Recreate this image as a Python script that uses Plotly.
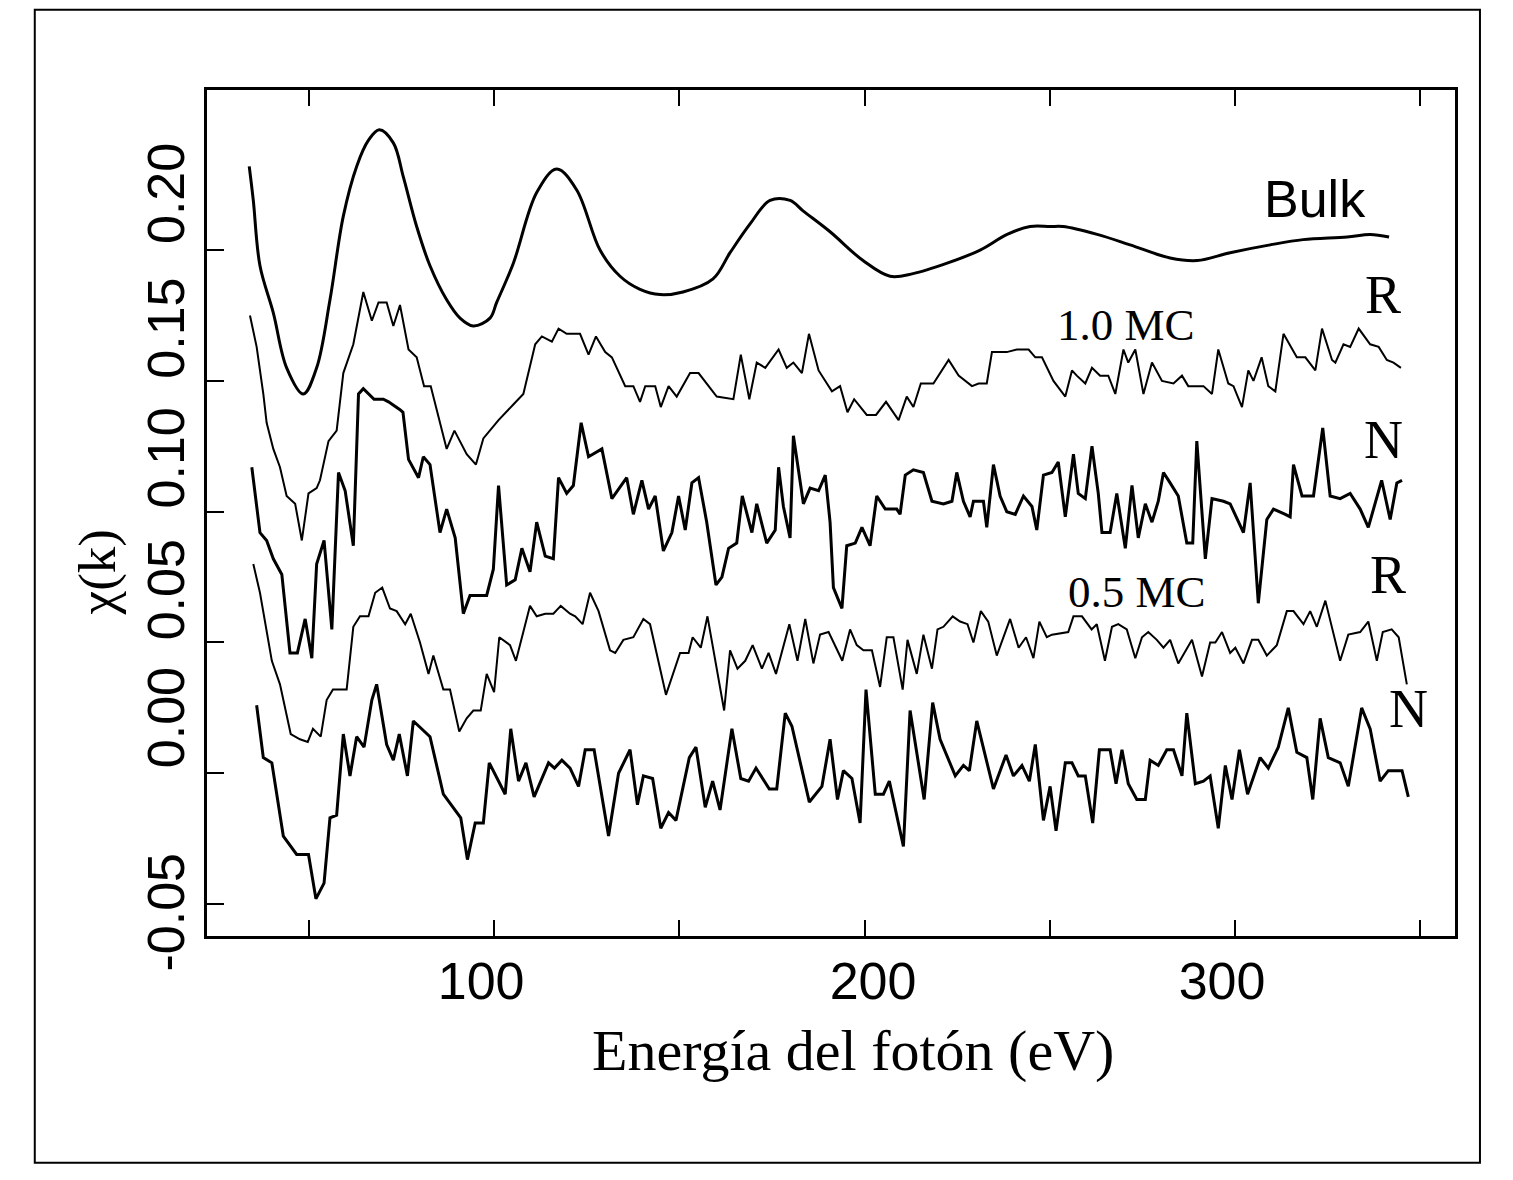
import plotly.graph_objects as go

# ---------------- data ----------------
E_bulk = [33.9,35.0,36.8,40.4,44.0,48.5,52.1,55.7,59.3,62.9,66.1,69.0,72.8,75.5,79.1,82.7,87.2,90.8,94.4,98.9,
          100.7,105.2,111.5,116.9,122.3,128.6,134.0,139.4,144.8,151.0,159.1,163.7,169.1,174.5,179.9,183.4,190.7,199.6,206.9,213.1,
          222.3,231.2,238.5,244.7,250.1,253.6,262.8,271.7,282.5,289.8,298.7,309.5,318.4,330.3,336.5,341.6]
chi_bulk = [0.232,0.219,0.194,0.176,0.155,0.145,0.155,0.181,0.213,0.232,0.242,0.246,0.241,0.228,0.209,0.194,0.181,0.174,0.171,0.174,
            0.180,0.195,0.222,0.231,0.223,0.200,0.190,0.185,0.183,0.184,0.189,0.199,0.210,0.219,0.219,0.215,0.207,0.196,0.190,0.191,
            0.195,0.200,0.206,0.209,0.209,0.209,0.206,0.202,0.197,0.196,0.199,0.202,0.204,0.205,0.206,0.205]

E_r10 = [34.1,35.9,37.7,38.6,40.4,42.2,44.0,46.3,48.1,49.9,
         52.1,53.0,55.3,57.5,59.3,62.0,64.7,67.0,68.8,71.0,
         72.8,74.6,76.9,79.1,81.1,82.9,87.2,89.3,92.6,95.1,
         97.1,101.2,105.2,107.9,111.1,112.9,115.6,117.4,119.6,123.2,
         125.5,127.5,130.0,131.8,135.4,137.6,139.4,140.8,143.5,145.0,
         147.1,149.3,152.9,155.2,160.1,164.6,166.6,168.9,170.9,173.2,
         176.8,179.0,180.8,183.1,185.0,187.6,191.2,193.4,195.4,197.2,
         200.6,203.1,205.8,209.2,211.4,213.2,215.2,218.6,222.7,225.4,
         229.0,230.8,233.0,234.4,238.4,241.1,242.5,244.3,246.1,247.9,
         251.0,254.2,256.0,257.3,259.6,261.4,263.6,265.8,267.7,269.9,
         271.2,273.1,275.3,277.6,280.3,283.4,285.7,287.4,289.7,291.5,
         293.8,295.5,298.2,299.6,301.9,303.6,305.0,307.2,309.0,310.9,
         313.1,316.7,319.0,321.7,323.5,326.2,327.1,329.3,331.1,333.4,
         336.5,338.8,341.0,342.8,344.8]
chi_r10 = [0.175,0.163,0.145,0.134,0.124,0.117,0.106,0.103,0.089,0.107,
           0.109,0.112,0.127,0.131,0.153,0.164,0.184,0.173,0.180,0.180,
           0.171,0.179,0.162,0.159,0.148,0.148,0.124,0.131,0.122,0.118,
           0.128,0.135,0.141,0.145,0.164,0.167,0.165,0.170,0.168,0.168,
           0.160,0.167,0.161,0.159,0.148,0.148,0.142,0.148,0.148,0.140,
           0.148,0.144,0.153,0.153,0.144,0.143,0.160,0.143,0.157,0.155,
           0.162,0.155,0.157,0.153,0.168,0.154,0.146,0.148,0.138,0.143,
           0.137,0.137,0.142,0.135,0.144,0.140,0.149,0.149,0.158,0.152,
           0.148,0.149,0.149,0.161,0.161,0.162,0.162,0.162,0.159,0.159,
           0.150,0.144,0.154,0.152,0.149,0.155,0.152,0.152,0.145,0.162,
           0.157,0.162,0.145,0.157,0.150,0.149,0.152,0.148,0.148,0.148,
           0.145,0.162,0.149,0.148,0.140,0.154,0.150,0.159,0.148,0.146,
           0.168,0.159,0.159,0.154,0.170,0.158,0.157,0.164,0.163,0.170,
           0.164,0.163,0.158,0.157,0.155]

E_n10 = [34.6,35.0,36.8,38.6,40.4,42.7,44.9,46.9,49.0,50.8,
         52.1,54.1,56.2,58.0,59.8,62.0,63.4,64.7,67.6,70.1,
         71.5,74.6,75.4,76.9,79.6,80.9,82.7,85.4,87.2,89.5,
         91.7,93.5,98.0,99.8,101.2,103.4,105.7,107.5,109.7,111.5,
         113.8,116.0,117.4,119.6,121.4,123.5,125.5,129.1,131.8,135.8,
         137.6,139.9,141.7,143.5,145.7,148.0,149.8,151.6,153.4,155.2,
         157.4,159.9,161.5,163.3,165.5,167.0,169.6,170.9,173.6,175.9,
         176.8,178.1,179.9,180.8,183.5,185.3,187.6,189.4,190.7,191.6,
         193.9,195.2,197.5,199.3,201.5,203.3,205.6,208.7,209.6,211.0,
         213.2,215.9,218.2,221.3,223.6,224.9,226.7,228.5,229.4,232.1,
         233.0,234.8,236.6,238.4,240.7,242.9,245.2,246.5,248.3,250.6,
         252.3,254.2,256.4,257.7,259.6,261.4,263.1,264.1,266.3,268.1,
         270.4,272.2,273.9,275.8,277.6,279.3,280.7,282.5,284.7,287.0,
         288.6,289.7,292.0,293.8,296.9,298.7,302.3,304.1,306.3,308.6,
         310.4,313.6,314.9,315.8,318.1,321.2,323.7,325.7,328.4,331.1,
         333.8,336.0,339.6,341.9,343.7,345.1]
chi_n10 = [0.117,0.112,0.092,0.089,0.082,0.076,0.046,0.046,0.059,0.044,
           0.080,0.089,0.055,0.115,0.108,0.087,0.145,0.147,0.143,0.143,
           0.142,0.139,0.138,0.120,0.113,0.121,0.118,0.092,0.101,0.090,
           0.061,0.068,0.068,0.078,0.110,0.072,0.074,0.086,0.077,0.096,
           0.083,0.082,0.113,0.107,0.110,0.134,0.121,0.124,0.105,0.113,
           0.099,0.112,0.101,0.106,0.085,0.092,0.106,0.093,0.111,0.113,
           0.096,0.072,0.075,0.086,0.088,0.106,0.092,0.103,0.088,0.093,
           0.117,0.102,0.090,0.129,0.103,0.109,0.108,0.114,0.096,0.071,
           0.063,0.087,0.088,0.094,0.087,0.106,0.101,0.101,0.099,0.114,
           0.116,0.115,0.104,0.103,0.104,0.115,0.104,0.098,0.104,0.104,
           0.094,0.118,0.106,0.100,0.099,0.106,0.102,0.093,0.114,0.115,
           0.119,0.098,0.122,0.107,0.105,0.125,0.107,0.092,0.092,0.107,
           0.086,0.110,0.090,0.103,0.096,0.104,0.115,0.111,0.106,0.088,
           0.088,0.127,0.082,0.105,0.104,0.103,0.092,0.111,0.065,0.097,
           0.101,0.099,0.098,0.118,0.106,0.106,0.132,0.106,0.105,0.107,
           0.101,0.094,0.112,0.097,0.111,0.112]

E_r05 = [35.0,36.8,40.0,42.2,45.1,47.6,49.7,51.1,53.2,54.8,
         56.5,58.9,60.2,62.0,63.8,66.1,67.9,69.8,71.9,73.7,
         76.0,77.5,80.0,82.3,83.6,86.3,88.1,90.6,92.6,94.4,
         96.4,98.0,100.0,101.4,104.3,105.9,107.5,109.7,111.5,113.8,
         116.0,118.0,120.5,121.9,123.9,125.9,128.2,131.3,132.7,134.9,
         137.6,140.3,142.1,146.4,150.2,152.5,153.6,155.8,157.6,162.1,
         163.7,165.7,167.8,169.8,172.3,174.1,176.1,179.7,181.9,184.0,
         186.2,188.0,190.3,194.0,196.1,197.9,199.7,202.0,204.2,206.0,
         207.8,210.3,211.6,214.1,215.9,218.2,219.7,221.3,223.8,225.8,
         227.8,229.4,231.4,233.4,235.7,239.3,241.6,243.6,245.6,247.2,
         249.2,250.6,255.0,256.4,258.7,261.3,262.7,264.9,266.8,268.5,
         270.8,273.1,274.9,276.6,278.9,280.7,282.5,284.7,288.4,291.1,
         293.3,294.7,296.5,298.7,300.1,302.3,304.6,306.3,308.6,311.3,
         314.0,315.8,318.5,320.3,322.1,324.4,328.4,330.6,333.8,336.0,
         338.3,339.9,342.3,344.2,346.4]
chi_r05 = [0.080,0.069,0.043,0.034,0.015,0.013,0.012,0.017,0.014,0.028,
           0.032,0.032,0.032,0.056,0.060,0.060,0.069,0.071,0.063,0.062,
           0.057,0.061,0.050,0.038,0.045,0.032,0.032,0.016,0.021,0.024,
           0.024,0.038,0.031,0.052,0.049,0.043,0.052,0.064,0.060,0.061,
           0.061,0.064,0.061,0.060,0.057,0.069,0.062,0.047,0.046,0.051,
           0.052,0.059,0.057,0.030,0.046,0.046,0.052,0.048,0.060,0.024,
           0.047,0.040,0.043,0.049,0.040,0.046,0.038,0.057,0.043,0.059,
           0.042,0.053,0.054,0.043,0.055,0.049,0.047,0.047,0.033,0.052,
           0.052,0.032,0.051,0.038,0.053,0.040,0.055,0.056,0.060,0.058,
           0.057,0.050,0.062,0.058,0.045,0.059,0.048,0.052,0.044,0.058,
           0.052,0.053,0.054,0.060,0.060,0.055,0.057,0.043,0.056,0.057,
           0.055,0.044,0.052,0.054,0.051,0.048,0.051,0.042,0.051,0.037,
           0.050,0.050,0.054,0.046,0.048,0.042,0.051,0.051,0.045,0.049,
           0.062,0.062,0.057,0.062,0.056,0.066,0.043,0.053,0.054,0.058,
           0.043,0.054,0.055,0.052,0.034]

E_n05 = [35.9,37.7,40.0,43.1,46.7,49.9,51.9,54.1,55.7,57.5,
         59.3,61.1,62.9,64.9,67.0,68.3,71.0,72.8,74.4,76.6,
         78.2,82.7,86.3,91.0,92.8,94.9,97.1,98.7,103.0,104.5,
         106.6,108.6,110.8,114.7,116.3,118.3,120.5,122.8,124.6,127.0,
         130.9,133.6,136.7,138.7,140.3,142.8,145.0,147.1,149.1,152.7,
         154.5,157.0,159.0,161.0,164.2,166.6,168.7,170.7,174.3,176.3,
         178.6,180.4,185.1,188.5,190.7,192.7,194.3,196.6,198.8,200.4,
         202.9,205.1,206.7,210.5,212.3,216.1,218.4,220.4,224.5,226.7,
         228.3,230.3,234.8,238.2,240.2,242.5,244.5,246.1,248.3,250.1,
         251.7,254.2,256.0,257.7,259.6,261.6,263.4,266.3,267.9,269.5,
         271.2,273.5,275.8,277.1,279.3,281.6,283.4,285.7,287.0,289.3,
         291.5,293.3,295.5,297.4,299.2,301.2,303.4,306.8,309.0,311.7,
         314.4,316.7,319.4,321.0,323.0,325.2,328.4,330.6,334.2,336.5,
         339.2,341.4,342.8,345.1,346.8]
chi_n05 = [0.026,0.006,0.004,-0.024,-0.031,-0.031,-0.048,-0.042,-0.017,-0.016,
           0.015,-0.001,0.014,0.010,0.028,0.034,0.011,0.005,0.015,-0.001,
           0.020,0.014,-0.008,-0.017,-0.033,-0.019,-0.019,0.004,-0.008,0.017,
           -0.003,0.004,-0.009,0.004,0.002,0.005,0.002,-0.005,0.009,0.009,
           -0.024,0.000,0.009,-0.012,-0.001,-0.002,-0.021,-0.015,-0.018,0.006,
           0.010,-0.013,-0.003,-0.014,0.017,-0.002,-0.003,0.002,-0.006,-0.006,
           0.023,0.018,-0.011,-0.005,0.013,-0.010,0.001,-0.002,-0.019,0.032,
           -0.008,-0.008,-0.003,-0.028,0.024,-0.010,0.027,0.013,-0.001,0.003,
           0.001,0.020,-0.006,0.007,-0.001,0.003,-0.003,0.011,-0.018,-0.005,
           -0.022,0.004,0.004,-0.001,-0.001,-0.019,0.009,0.009,-0.004,0.009,
           -0.004,-0.010,-0.010,0.005,0.003,0.009,0.009,-0.001,0.023,-0.004,
           -0.003,-0.001,-0.021,0.003,-0.010,0.009,-0.008,0.006,0.002,0.010,
           0.025,0.008,0.006,-0.010,0.021,0.006,0.004,-0.005,0.025,0.017,
           -0.003,0.001,0.001,0.001,-0.009]

x_tickvals = [50, 100, 150, 200, 250, 300, 350]
x_ticktext = ["100", "200", "300"]
y_tickvals = [-0.05, 0.0, 0.05, 0.10, 0.15, 0.20]
y_ticktext = ["-0.05", "0.00", "0.05", "0.10", "0.15", "0.20"]

# curve labels: (text, energy, chi, font family, size)
labels = [
    ("Bulk", 321.7, 0.2195, "sans", 52),
    ("R", 340.0, 0.1828, "serif", 54),
    ("1.0 MC", 270.6, 0.1713, "serif", 45),
    ("N", 340.0, 0.1274, "serif", 54),
    ("R", 341.4, 0.0758, "serif", 54),
    ("0.5 MC", 273.6, 0.0693, "serif", 45),
    ("N", 346.8, 0.0245, "serif", 54),
]

SANS = "Liberation Sans, Arial, Helvetica, sans-serif"
SERIF = "Liberation Serif, Times New Roman, serif"

# where the printed tick labels sit along each axis (the original offsets them from their ticks)
x_label_pos = [96.5, 202.3, 296.5]
y_label_pos = [-0.0561, 0.0183, 0.0672, 0.1176, 0.1672, 0.2187]
X_RANGE = [22.5, 359.4]
Y_RANGE = [-0.0622, 0.2612]

for a, b in [(E_bulk, chi_bulk), (E_r10, chi_r10), (E_n10, chi_n10), (E_r05, chi_r05), (E_n05, chi_n05)]:
    assert len(a) == len(b), (len(a), len(b))

fig = go.Figure()
series = [
    # (x, y, width, shape, x-axis, y-axis) -- overlaid axes share exactly the same fixed ranges
    (E_bulk, chi_bulk, 3.0, "spline", "x2", "y2"),
    (E_r10, chi_r10, 2.0, "linear", "x", "y"),
    (E_n10, chi_n10, 3.0, "linear", "x", "y"),
    (E_r05, chi_r05, 2.0, "linear", "x", "y"),
    (E_n05, chi_n05, 3.0, "linear", "x", "y"),
]
for xs, ys, w, shp, xax, yax in series:
    fig.add_trace(go.Scatter(x=xs, y=ys, mode="lines", xaxis=xax, yaxis=yax,
                             line=dict(color="black", width=w, shape=shp),
                             showlegend=False, hoverinfo="skip"))

for txt, ex, cy, fam, sz in labels:
    fig.add_annotation(x=ex, y=cy, xref="x", yref="y", text=txt, showarrow=False,
                       font=dict(family=SANS if fam == "sans" else SERIF, size=sz, color="black"),
                       xanchor="center", yanchor="middle")

# axis titles
fig.add_annotation(x=0.518, y=-0.135, xref="paper", yref="paper", text="Energía del fotón (eV)",
                   showarrow=False, font=dict(family=SERIF, size=58, color="black"),
                   xanchor="center", yanchor="middle")
fig.add_annotation(x=-0.088, y=0.43, xref="paper", yref="paper", text="χ(k)", textangle=-90,
                   showarrow=False, font=dict(family=SERIF, size=53, color="black"),
                   xanchor="center", yanchor="middle")

# page frame
fig.add_shape(type="rect", xref="paper", yref="paper", x0=-0.138, x1=1.020, y0=-0.268, y1=1.095,
              line=dict(color="black", width=2), fillcolor="rgba(0,0,0,0)", layer="above")

fig.update_layout(
    xaxis=dict(range=X_RANGE, tickmode="array", tickvals=x_tickvals,
               ticks="inside", ticklen=16, tickwidth=2, tickcolor="black",
               showticklabels=False,
               showline=True, linecolor="black", linewidth=3, mirror="ticks",
               showgrid=False, zeroline=False),
    xaxis2=dict(range=X_RANGE, overlaying="x", anchor="y", side="bottom",
                tickmode="array", tickvals=x_label_pos, ticktext=x_ticktext,
                ticks="", showline=False, showgrid=False, zeroline=False,
                ticklabelstandoff=10,
                tickfont=dict(family=SANS, size=52, color="black")),
    yaxis=dict(range=Y_RANGE, tickmode="array", tickvals=y_tickvals,
               ticks="inside", ticklen=17, tickwidth=2, tickcolor="black",
               showticklabels=False,
               showline=True, linecolor="black", linewidth=2.5, mirror=True,
               showgrid=False, zeroline=False),
    yaxis2=dict(range=Y_RANGE, overlaying="y", anchor="x", side="left",
                tickmode="array", tickvals=y_label_pos, ticktext=y_ticktext,
                ticks="", showline=False, showgrid=False, zeroline=False,
                tickangle=-90, ticklabelstandoff=12,
                tickfont=dict(family=SANS, size=52, color="black")),
    width=1513, height=1180, margin=dict(l=207, r=58, t=90, b=244, autoexpand=False),
    paper_bgcolor="white", plot_bgcolor="white", showlegend=False,
)

fig.write_html("out.html")
